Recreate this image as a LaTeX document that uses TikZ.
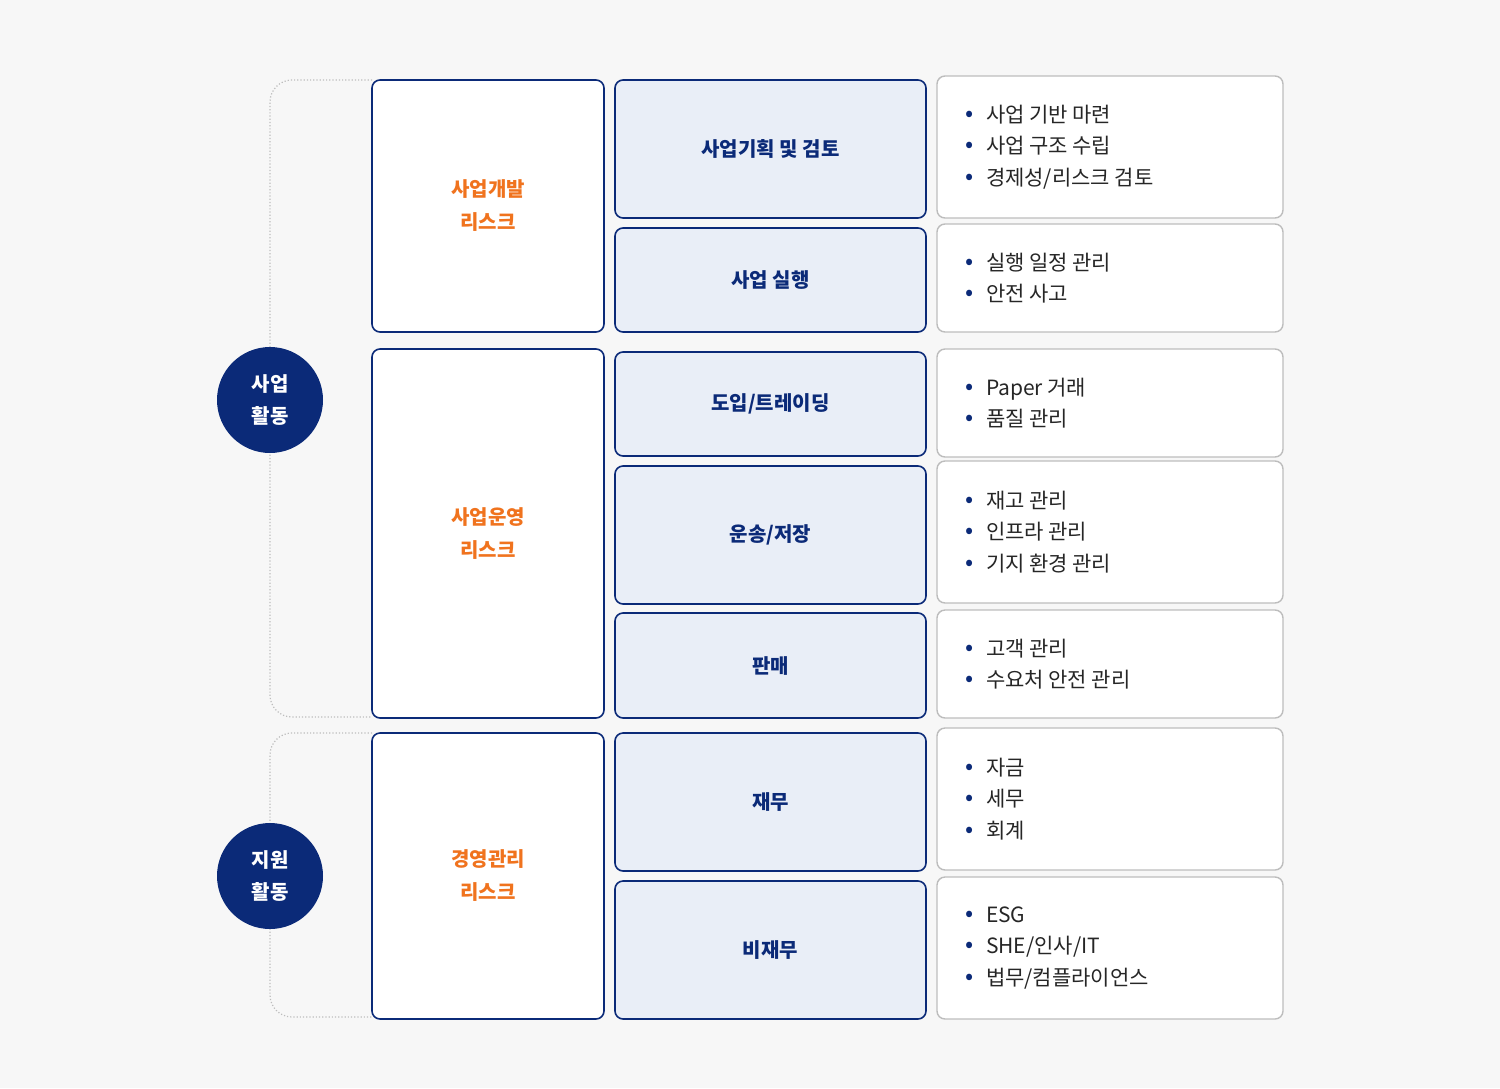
\documentclass[tikz,border=0pt]{standalone}
\usepackage{fontspec}
\setmainfont{Noto Sans CJK KR}
\usetikzlibrary{positioning}
\definecolor{navy}{HTML}{0B2A78}
\definecolor{lightblue}{HTML}{E9EEF7}
\definecolor{riskorange}{HTML}{F0731E}
\definecolor{greyline}{HTML}{BDBDBD}
\definecolor{bgcol}{HTML}{F7F7F7}
\tikzset{
  riskbox/.style={draw=navy, line width=1.6pt, fill=white, rounded corners=8pt, minimum width=232pt, align=center, font=\fontsize{20}{33}\selectfont\bfseries, text=riskorange},
  taskbox/.style={draw=navy, line width=1.6pt, fill=lightblue, rounded corners=8pt, minimum width=311pt, font=\fontsize{20}{24}\selectfont\bfseries, text=navy},
  itembox/.style={draw=greyline, line width=1.4pt, fill=white, rounded corners=8pt, minimum width=346pt},
  itemlist/.style={anchor=west, align=left, font=\fontsize{21}{31.5}\selectfont, text=black!85},
  actcircle/.style={circle, fill=navy, minimum size=106pt, align=center, text=white, font=\fontsize{20}{32}\selectfont\bfseries},
  bracket/.style={draw=greyline, line width=1.2pt, dotted, rounded corners=22pt}
}
\newcommand{\bul}{\textcolor{navy}{\raisebox{1pt}{\fontsize{24}{24}\selectfont •}}\hspace{12pt}}
\begin{document}
\begin{tikzpicture}[x=1pt,y=-1pt]
  \fill[bgcol] (0,0) rectangle (1500,1088);
  \useasboundingbox (0,0) rectangle (1500,1088);

  % brackets
  \draw[bracket] (372,80) -| (270,717) -- (372,717);
  \draw[bracket] (372,733) -| (270,1017) -- (372,1017);

  % activity circles
  \node[actcircle] (bizact) at (270,400) {사업\\활동};
  \node[actcircle] (supact) at (270,876) {지원\\활동};

  % risk boxes
  \node[riskbox, minimum height=252pt] (devrisk) at (488,206) {사업개발\\리스크};
  \node[riskbox, minimum height=369pt] (oprisk) at (488,533.5) {사업운영\\리스크};
  \node[riskbox, minimum height=286pt] (mgmtrisk) at (488,876) {경영관리\\리스크};

  % task boxes
  \node[taskbox, minimum height=138pt] (plan) at (770.5,149) {사업기획 및 검토};
  \node[taskbox, minimum height=104pt] (exec) at (770.5,280) {사업 실행};
  \node[taskbox, minimum height=104pt] (trade) at (770.5,404) {도입/트레이딩};
  \node[taskbox, minimum height=138pt] (store) at (770.5,535) {운송/저장};
  \node[taskbox, minimum height=105pt] (sale) at (770.5,665.5) {판매};
  \node[taskbox, minimum height=138pt] (fin) at (770.5,802) {재무};
  \node[taskbox, minimum height=138pt] (nonfin) at (770.5,950) {비재무};

  % item boxes
  \node[itembox, minimum height=142pt] (planitems) at (1110,147) {};
  \node[itembox, minimum height=108pt] (execitems) at (1110,278) {};
  \node[itembox, minimum height=108pt] (tradeitems) at (1110,403) {};
  \node[itembox, minimum height=142pt] (storeitems) at (1110,532) {};
  \node[itembox, minimum height=108pt] (saleitems) at (1110,664) {};
  \node[itembox, minimum height=142pt] (finitems) at (1110,799) {};
  \node[itembox, minimum height=142pt] (nonfinitems) at (1110,948) {};

  \node[itemlist] at ([xshift=26pt]planitems.west) {\bul 사업 기반 마련\\\bul 사업 구조 수립\\\bul 경제성/리스크 검토};
  \node[itemlist] at ([xshift=26pt]execitems.west) {\bul 실행 일정 관리\\\bul 안전 사고};
  \node[itemlist] at ([xshift=26pt]tradeitems.west) {\bul Paper 거래\\\bul 품질 관리};
  \node[itemlist] at ([xshift=26pt]storeitems.west) {\bul 재고 관리\\\bul 인프라 관리\\\bul 기지 환경 관리};
  \node[itemlist] at ([xshift=26pt]saleitems.west) {\bul 고객 관리\\\bul 수요처 안전 관리};
  \node[itemlist] at ([xshift=26pt]finitems.west) {\bul 자금\\\bul 세무\\\bul 회계};
  \node[itemlist] at ([xshift=26pt]nonfinitems.west) {\bul ESG\\\bul SHE/인사/IT\\\bul 법무/컴플라이언스};
\end{tikzpicture}
\end{document}
